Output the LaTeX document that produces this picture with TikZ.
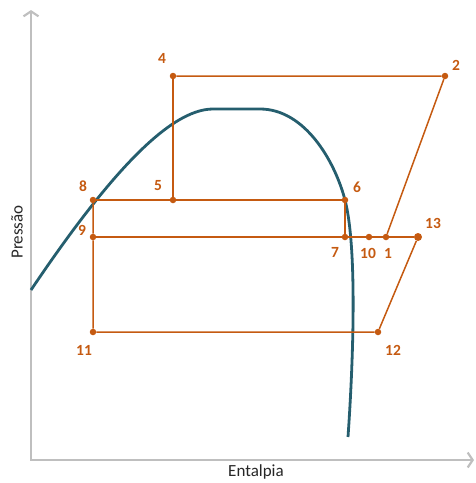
\documentclass[tikz,border=0pt]{standalone}
\usepackage{fontspec}
\setmainfont{Carlito}
\usepackage{xcolor}
\usetikzlibrary{arrows.meta}

\definecolor{cycorange}{RGB}{197,90,17}
\definecolor{domeblue}{RGB}{37,94,110}
\definecolor{axisgray}{RGB}{191,191,191}
\definecolor{textgray}{RGB}{38,38,38}

\begin{document}
\begin{tikzpicture}[
  x=1pt, y=-1pt,
  pt/.style     = {circle, fill=cycorange, inner sep=0pt, minimum size=6.5pt},
  bigpt/.style  = {pt, minimum size=8pt},
  lbl/.style    = {text=cycorange, font=\bfseries\fontsize{15.5}{16}\selectfont,
                   inner sep=0pt},
  cyc/.style    = {draw=cycorange, line width=1.5pt},
  dome/.style   = {draw=domeblue, line width=2.8pt},
  axis/.style   = {draw=axisgray, line width=2.2pt,
                   {Straight Barb[length=5pt, width=15pt]}-{Straight Barb[length=5pt, width=15pt]}},
  axlbl/.style  = {text=textgray, font=\fontsize{17}{18}\selectfont, inner sep=0pt},
]
\useasboundingbox (0,0) rectangle (475,483);

\coordinate (ytip) at (31,10);
\coordinate (orig) at (31,460);
\coordinate (xtip) at (474,460);
\draw[axis] (ytip) -- (orig) -- (xtip);

\node[axlbl, rotate=90] (pres) at (17,232) {Pressão};
\node[axlbl]            (ental) at (256,472) {Entalpia};

\draw[dome] (31,290) .. controls (105,180) and (168,109) .. (213,109)
  -- (260,109) .. controls (305,109) and (335,161.5) .. (345,200)
  .. controls (358.5,252.5) and (352,380) .. (348,437);

\node[pt]    (p4)  at (173,76)  {};
\node[pt]    (p2)  at (445,76)  {};
\node[pt]    (p8)  at (93,200)  {};
\node[pt]    (p5)  at (173,200) {};
\node[pt]    (p6)  at (345,200) {};
\node[pt]    (p9)  at (93,237)  {};
\node[pt]    (p7)  at (345,237) {};
\node[pt]    (p10) at (369,237) {};
\node[pt]    (p1)  at (386,237) {};
\node[bigpt] (p13) at (418,237) {};
\node[pt]    (p11) at (93,332)  {};
\node[pt]    (p12) at (378,332) {};

\draw[cyc] (p4) -- (p2) -- (p1);
\draw[cyc] (p4) -- (p5);
\draw[cyc] (p8) -- (p5) -- (p6) -- (p7);
\draw[cyc] (p8) -- (p9) -- (p11) -- (p12) -- (p13);
\draw[cyc] (p9) -- (p7) -- (p10) -- (p1) -- (p13);

\node[lbl] (t4)  at (162,58)  {4};
\node[lbl] (t2)  at (456,65)  {2};
\node[lbl] (t8)  at (83,186)  {8};
\node[lbl] (t5)  at (158,186) {5};
\node[lbl] (t6)  at (357,187) {6};
\node[lbl] (t9)  at (82,230)  {9};
\node[lbl] (t7)  at (335,252) {7};
\node[lbl] (t10) at (368,253) {10};
\node[lbl] (t1)  at (388,253) {1};
\node[lbl] (t13) at (433,223) {13};
\node[lbl] (t11) at (84,350)  {11};
\node[lbl] (t12) at (393,350) {12};

\end{tikzpicture}
\end{document}
